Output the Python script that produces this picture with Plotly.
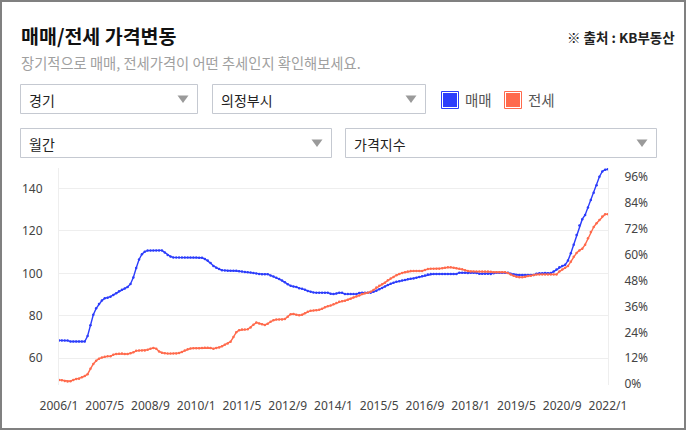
import plotly.graph_objects as go

# ---- data -------------------------------------------------------------
months = [f"{2006 + m // 12}/{m % 12 + 1}" for m in range(193)]  # 2006/1 .. 2022/1
tick_labels = ["2006/1", "2007/5", "2008/9", "2010/1", "2011/5", "2012/9", "2014/1",
               "2015/5", "2016/9", "2018/1", "2019/5", "2020/9", "2022/1"]

sale_index = [  # 매매
    68.4, 68.4, 68.4, 68.3, 67.9, 67.9, 67.9, 67.9, 67.9, 67.9,
    70.5, 75.5, 80.5, 83.5, 85.5, 87.2, 88.2, 88.5, 89.0, 89.8,
    90.6, 91.6, 92.3, 92.8, 93.6, 95.0, 98.0, 102.5, 106.5, 109.0,
    110.2, 110.7, 110.8, 110.8, 110.8, 110.8, 110.8, 109.8, 108.6, 107.9,
    107.5, 107.4, 107.4, 107.4, 107.4, 107.4, 107.4, 107.4, 107.4, 107.3,
    107.3, 106.8, 106.0, 104.8, 103.5, 102.6, 102.0, 101.5, 101.3, 101.2,
    101.2, 101.2, 101.2, 101.0, 100.8, 100.6, 100.5, 100.4, 100.2, 99.9,
    99.7, 99.6, 99.6, 99.6, 99.0, 98.5, 97.9, 97.3, 96.6, 95.8,
    94.9, 94.1, 93.8, 93.6, 93.0, 92.7, 92.3, 91.7, 91.3, 91.0,
    90.9, 90.9, 90.9, 90.9, 90.9, 90.4, 90.2, 90.5, 90.9, 90.8,
    90.2, 90.2, 90.2, 90.2, 90.2, 90.7, 90.9, 90.9, 90.9, 90.9,
    91.3, 91.8, 92.5, 93.1, 93.8, 94.5, 95.1, 95.6, 96.0, 96.3,
    96.6, 96.9, 97.2, 97.4, 97.6, 97.9, 98.3, 98.6, 99.0, 99.4,
    99.7, 99.7, 99.7, 99.7, 99.7, 99.7, 99.7, 99.7, 99.7, 99.7,
    100.3, 100.3, 100.3, 100.2, 100.3, 100.3, 100.2, 99.8, 99.8, 99.8,
    99.8, 99.7, 100.0, 100.3, 100.3, 100.3, 100.3, 100.3, 99.8, 99.5,
    99.2, 99.2, 99.2, 99.2, 99.2, 99.2, 99.2, 99.8, 100.0, 100.0,
    100.1, 100.0, 100.1, 100.8, 101.8, 102.8, 103.4, 104.0, 106.0, 109.5,
    113.5, 118.0, 122.5, 125.5, 127.5, 131.0, 134.5, 138.0, 141.5, 145.5,
    148.0, 148.8, 149.0,
]

jeonse_index = [  # 전세
    49.8, 49.6, 49.3, 49.1, 49.2, 49.8, 50.2, 50.4, 51.0, 51.6,
    52.5, 55.0, 57.3, 58.8, 59.8, 60.3, 60.7, 60.9, 60.9, 61.7,
    62.0, 62.1, 62.2, 62.0, 62.0, 62.3, 62.8, 63.5, 63.6, 63.6,
    63.7, 64.0, 64.5, 64.8, 64.5, 63.2, 62.6, 62.3, 62.2, 62.2,
    62.2, 62.2, 62.5, 63.0, 63.6, 64.2, 64.6, 64.7, 64.7, 64.7,
    64.8, 65.0, 65.0, 64.8, 64.5, 64.8, 65.1, 65.6, 66.4, 67.0,
    67.8, 70.0, 72.3, 73.2, 73.5, 73.5, 73.6, 74.5, 75.8, 76.8,
    76.4, 76.0, 75.7, 76.3, 77.2, 77.9, 78.2, 78.3, 78.3, 78.5,
    79.6, 80.7, 80.8, 80.5, 80.2, 80.5, 81.2, 81.9, 82.4, 82.5,
    82.6, 82.8, 83.3, 84.0, 84.5, 84.8, 85.4, 86.0, 86.6, 86.9,
    87.1, 87.5, 88.0, 88.6, 89.1, 89.6, 90.2, 90.6, 90.9, 91.3,
    92.2, 93.3, 94.1, 94.8, 95.6, 96.7, 97.5, 98.3, 99.1, 99.7,
    100.2, 100.5, 100.8, 101.1, 101.1, 101.1, 101.1, 101.1, 101.6, 102.0,
    102.2, 102.2, 102.2, 102.2, 102.4, 102.6, 102.8, 102.8, 102.6, 102.4,
    102.2, 101.9, 101.5, 101.1, 100.9, 100.8, 100.8, 100.8, 100.8, 100.8,
    100.8, 100.7, 100.5, 100.5, 100.5, 100.5, 100.5, 100.1, 99.4, 98.8,
    98.4, 98.1, 98.1, 98.4, 98.7, 98.9, 99.2, 99.4, 99.5, 99.5,
    99.5, 99.5, 99.5, 99.5, 99.5, 100.8, 101.8, 102.6, 103.4, 105.5,
    107.8, 109.6, 110.8, 111.6, 113.5, 116.5, 119.5, 121.8, 123.6, 125.1,
    126.8, 127.8, 127.8,
]

right_ticks = [0, 12, 24, 36, 48, 60, 72, 84, 96]
left_ticks = [60, 80, 100, 120, 140]

series_names = ["매매", "전세"]
dropdown_texts = ["경기", "의정부시", "월간", "가격지수"]

# ---- styling -----------------------------------------------------------
W, H = 686, 430
BLUE = "#2b3cfb"
ORANGE = "#ff6a4c"
KR = "Noto Sans CJK KR"


def px(x):
    return x / W


def py(y):
    return 1 - y / H


fig = go.Figure()
fig.add_trace(go.Scatter(
    x=months, y=sale_index, name=series_names[0], mode="lines+markers",
    line=dict(color=BLUE, width=1.4), marker=dict(color=BLUE, size=2.5),
    showlegend=False, hoverinfo="skip"))
fig.add_trace(go.Scatter(
    x=months, y=jeonse_index, name=series_names[1], mode="lines+markers",
    line=dict(color=ORANGE, width=1.4), marker=dict(color=ORANGE, size=2.5),
    showlegend=False, hoverinfo="skip"))
# invisible trace so the right axis is drawn
fig.add_trace(go.Scatter(
    x=[months[0], months[-1]], y=[0, 0], yaxis="y2", mode="lines",
    line=dict(width=0, color="rgba(0,0,0,0)"), showlegend=False, hoverinfo="skip"))

shapes = []
annotations = []

# outer frame
shapes.append(dict(type="rect", xref="paper", yref="paper",
                   x0=px(1), x1=px(W - 1), y0=py(H - 1), y1=py(1),
                   line=dict(color="#808080", width=2), fillcolor="rgba(0,0,0,0)"))

# dropdown boxes
boxes = [(20, 84, 198, 114), (212, 84, 426, 114), (20, 128, 332, 158), (345, 128, 657, 158)]
for (x0, y0, x1, y1), label in zip(boxes, dropdown_texts):
    shapes.append(dict(type="rect", xref="paper", yref="paper",
                       x0=px(x0 + 0.5), x1=px(x1 - 0.5), y0=py(y1 - 0.5), y1=py(y0 + 0.5),
                       line=dict(color="#c5c9d1", width=1), fillcolor="white"))
    annotations.append(dict(xref="paper", yref="paper", x=px(x0 + 7), y=py((y0 + y1) / 2 + 1),
                            text=label, showarrow=False, xanchor="left", yanchor="middle",
                            font=dict(family=KR, size=14, color="#222")))
    cx, cy = x1 - 15, (y0 + y1) / 2
    path = (f"M {px(cx - 5.5)} {py(cy - 3.5)} L {px(cx + 5.5)} {py(cy - 3.5)} "
            f"L {px(cx)} {py(cy + 4)} Z")
    shapes.append(dict(type="path", xref="paper", yref="paper", path=path,
                       fillcolor="#9a9a9a", line=dict(width=0)))

# legend squares
for (x0, color, name, tx) in [(441, BLUE, series_names[0], 463), (504, ORANGE, series_names[1], 526)]:
    shapes.append(dict(type="rect", xref="paper", yref="paper",
                       x0=px(x0 + 0.5), x1=px(x0 + 17.5), y0=py(108.5), y1=py(91.5),
                       line=dict(color=color, width=1), fillcolor="white"))
    shapes.append(dict(type="rect", xref="paper", yref="paper",
                       x0=px(x0 + 2), x1=px(x0 + 16), y0=py(107), y1=py(93),
                       line=dict(width=0), fillcolor=color))
    annotations.append(dict(xref="paper", yref="paper", x=px(tx), y=py(100),
                            text=name, showarrow=False, xanchor="left", yanchor="middle",
                            font=dict(family=KR, size=14.5, color="#555")))

# title, subtitle, source
annotations.append(dict(xref="paper", yref="paper", x=px(19), y=py(35),
                        text="<b>매매/전세 가격변동</b>", showarrow=False,
                        xanchor="left", yanchor="middle",
                        font=dict(family=KR, size=19.5, color="#111")))
annotations.append(dict(xref="paper", yref="paper", x=px(677), y=py(37),
                        text="<b>※ 출처 : KB부동산</b>", showarrow=False,
                        xanchor="right", yanchor="middle",
                        font=dict(family=KR, size=13.5, color="#222")))
annotations.append(dict(xref="paper", yref="paper", x=px(19), y=py(62),
                        text="장기적으로 매매, 전세가격이 어떤 추세인지 확인해보세요.",
                        showarrow=False, xanchor="left", yanchor="middle",
                        font=dict(family=KR, size=14.3, color="#a0a0a0")))

fig.update_layout(
    width=W, height=H,
    margin=dict(l=0, r=0, t=0, b=0, autoexpand=False),
    paper_bgcolor="white", plot_bgcolor="white",
    font=dict(family="Noto Sans", size=12, color="#444"),
    shapes=shapes, annotations=annotations,
    xaxis=dict(
        domain=[px(59), px(608)], type="category", range=[0, 192], automargin=False,
        tickmode="array", tickvals=tick_labels, ticktext=tick_labels,
        showgrid=False, showline=False, zeroline=False,
        ticks="outside", ticklen=10, tickcolor="rgba(0,0,0,0)",
        tickfont=dict(family="Noto Sans", size=12, color="#444"),
    ),
    yaxis=dict(
        domain=[py(385), py(168)], range=[47.4, 149.6], automargin=False,
        tickvals=left_ticks, showgrid=True, gridcolor="#eeeeee", gridwidth=1,
        zeroline=False, showline=True, linecolor="#eeeeee", linewidth=1,
        ticks="outside", ticklen=13, tickcolor="rgba(0,0,0,0)",
        tickfont=dict(family="Noto Sans", size=12, color="#444"),
    ),
    yaxis2=dict(
        overlaying="y", side="right", range=[-0.4, 100.1], automargin=False,
        tickvals=right_ticks, ticktext=[f"{t}%" for t in right_ticks],
        showgrid=False, zeroline=False, showline=True, linecolor="#eeeeee", linewidth=1,
        ticks="outside", ticklen=13, tickcolor="rgba(0,0,0,0)",
        tickfont=dict(family="Noto Sans", size=12, color="#444"),
    ),
)

fig.write_html("out.html")
